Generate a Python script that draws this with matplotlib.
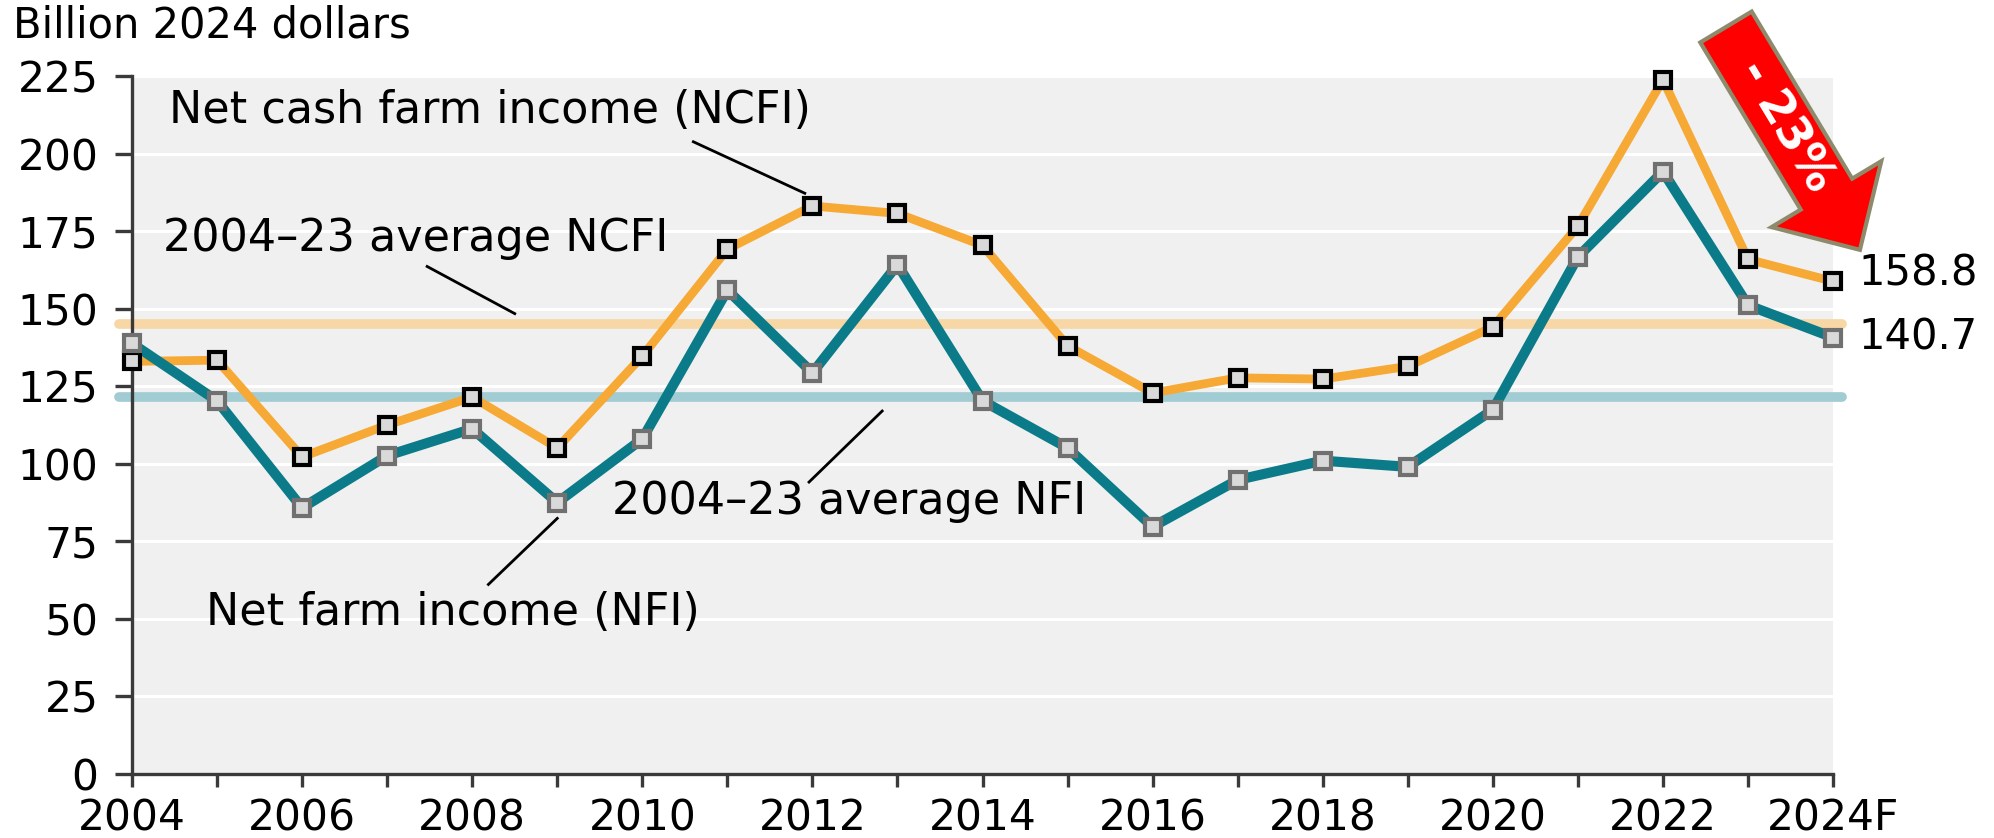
import numpy as np
import matplotlib
matplotlib.use("Agg")
import matplotlib.pyplot as plt
from matplotlib.patches import Polygon

# data (billion 2024 dollars)
years = np.arange(2004, 2025)
ncfi = [133.0, 133.4, 102.2, 112.5, 121.5, 105.1, 134.7, 169.2, 183.1, 180.7,
        170.4, 138.0, 122.8, 127.7, 127.3, 131.4, 144.1, 176.6, 223.8, 165.9, 158.8]
nfi = [138.8, 120.3, 85.8, 102.6, 111.3, 87.5, 108.0, 156.0, 129.3, 164.2,
       120.3, 105.1, 79.7, 94.8, 101.0, 99.0, 117.4, 166.7, 194.2, 151.1, 140.7]
tick_years = list(range(2004, 2025, 2))
tick_labels = [str(y) for y in tick_years[:-1]] + ["2024F"]
change_label = "- 23%"

ORANGE = "#F6A935"
TEAL = "#0C7B89"
ORANGE_AVG = "#F8D7A6"
TEAL_AVG = "#A2CCD3"
FS = 32      # annotations
TFS = 30.5   # tick labels

plt.rcParams["font.family"] = "DejaVu Sans"

fig = plt.figure(figsize=(19.94, 8.38), dpi=100)
ax = fig.add_axes([0.0662, 0.0764, 0.8531, 0.8329])
ax.set_facecolor("#F0F0F0")

avg_ncfi = np.mean(ncfi[:-1])
avg_nfi = np.mean(nfi[:-1])
ax.plot([2003.85, 2024.1], [avg_ncfi, avg_ncfi], color=ORANGE_AVG, lw=7,
        solid_capstyle="round", zorder=2, clip_on=False)
ax.plot([2003.85, 2024.1], [avg_nfi, avg_nfi], color=TEAL_AVG, lw=7,
        solid_capstyle="round", zorder=2, clip_on=False)

ax.plot(years, ncfi, color=ORANGE, lw=6.3, zorder=3, clip_on=False)
ax.plot(years, nfi, color=TEAL, lw=7.3, zorder=4, clip_on=False)
ax.plot(years, ncfi, ls="none", marker="s", ms=11.5, mfc="#D9D9D9", mec="black",
        mew=3, zorder=5, clip_on=False)
ax.plot(years, nfi, ls="none", marker="s", ms=11.5, mfc="#D9D9D9", mec="#707070",
        mew=3, zorder=5, clip_on=False)

ax.set_xlim(2004, 2024)
ax.set_ylim(0, 225)
ax.set_yticks(np.arange(0, 226, 25))
ax.set_xticks(years)
ax.set_xticklabels([tick_labels[tick_years.index(y)] if y in tick_years else ""
                    for y in years])
ax.grid(axis="y", color="white", lw=2.2, zorder=1)
ax.set_axisbelow(True)
for s in ["top", "right"]:
    ax.spines[s].set_visible(False)
for s in ["left", "bottom"]:
    ax.spines[s].set_color("#3A3A3A")
    ax.spines[s].set_linewidth(2.4)
ax.tick_params(axis="y", length=12, width=2.4, color="#3A3A3A", pad=12, labelsize=TFS)
ax.tick_params(axis="x", length=9, width=2.4, color="#3A3A3A", pad=8, labelsize=TFS)

# annotations with leader lines
ax.text(2004.43, 214, "Net cash farm income (NCFI)", fontsize=FS, va="center")
ax.plot([2010.6, 2011.91], [203.8, 187.2], color="black", lw=2, zorder=6)
ax.text(2004.36, 172.5, "2004\u201323 average NCFI", fontsize=FS, va="center")
ax.plot([2007.47, 2008.5], [163.6, 148.4], color="black", lw=2, zorder=6)
ax.text(2009.64, 87.9, "2004\u201323 average NFI", fontsize=FS, va="center")
ax.plot([2011.96, 2012.82], [94.1, 117.0], color="black", lw=2, zorder=6)
ax.text(2004.87, 52.0, "Net farm income (NFI)", fontsize=FS, va="center")
ax.plot([2008.19, 2009.0], [61.1, 82.4], color="black", lw=2, zorder=6)

ax.text(years[-1] + 0.3, ncfi[-1] + 2.5, f"{ncfi[-1]:.1f}", fontsize=30, va="center")
ax.text(years[-1] + 0.3, nfi[-1], f"{nfi[-1]:.1f}", fontsize=30, va="center")

fig.text(13 / 1994, 1 - 37 / 838, "Billion 2024 dollars", fontsize=30, va="baseline")

# red arrow, pixel coords (y down) -> figure fraction
W, H = 1994.0, 838.0
top = np.array([1726.0, 27.0])
u = np.array([134.0, 223.0]); u /= np.linalg.norm(u)
n = np.array([u[1], -u[0]])
base = top + 195 * u
tip = top + 260 * u
pts = [top + 30 * n, top - 30 * n, base - 30 * n, base - 64 * n, tip,
       base + 64 * n, base + 30 * n]
pts = [(p[0] / W, 1 - p[1] / H) for p in pts]
fig.add_artist(Polygon(pts, closed=True, transform=fig.transFigure, facecolor="#FF0000",
                       edgecolor="#8E8B6D", lw=3, joinstyle="miter", zorder=10))
c = top + 116 * u
fig.text(c[0] / W, 1 - c[1] / H, change_label, color="white", fontsize=33,
         fontweight="bold", rotation=-np.degrees(np.arctan2(223, 134)),
         rotation_mode="anchor", ha="center", va="center", zorder=11)

fig.savefig("out.png", dpi=100)
